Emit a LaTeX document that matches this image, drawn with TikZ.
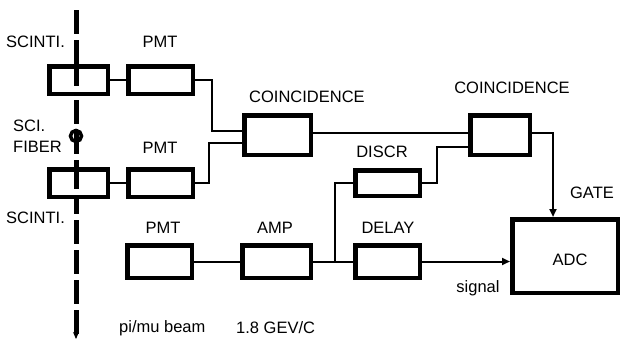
\documentclass[tikz,border=0pt]{standalone}
\usepackage{fontspec}
\setmainfont{Liberation Sans}
\usetikzlibrary{arrows.meta}
\begin{document}
\begin{tikzpicture}[x=1pt,y=-1pt,
  blk/.style={draw=black,line width=4.5pt,inner sep=0pt,fill=white},
  lbl/.style={font=\fontsize{16.5}{19}\selectfont,inner sep=0pt},
  wire/.style={line width=2pt},
  arr/.style={wire,-{Triangle[length=8pt,width=7pt]}}]
\useasboundingbox (0,0) rectangle (621,340);
% beam line
\draw[line width=5pt,dash pattern=on 24pt off 6pt,-{Stealth[length=7pt,width=6pt]}] (76,10) -- (76,339);
% blocks
\node[blk,minimum width=58.5pt,minimum height=27.5pt] (sc1) at (78.5,80) {};
\node[blk,minimum width=58.5pt,minimum height=27.5pt] (sc2) at (78.5,183) {};
\draw[line width=5pt] (76,66) -- (76,86);
\draw[line width=5pt] (76,169) -- (76,189);
\node[blk,minimum width=64.5pt,minimum height=27.5pt] (pmt1) at (160.5,80) {};
\node[blk,minimum width=64.5pt,minimum height=27.5pt] (pmt2) at (160.5,183) {};
\node[blk,minimum width=66.5pt,minimum height=39.5pt] (co1) at (277.5,135) {};
\node[blk,minimum width=59.5pt,minimum height=39.5pt] (co2) at (500,135) {};
\node[blk,minimum width=64.5pt,minimum height=25.5pt] (discr) at (387.5,183) {};
\node[blk,minimum width=64.5pt,minimum height=32.5pt] (pmt3) at (159.5,261.5) {};
\node[blk,minimum width=68.5pt,minimum height=32.5pt] (amp) at (276.5,261.5) {};
\node[blk,minimum width=64.5pt,minimum height=32.5pt] (delay) at (387.5,261.5) {};
\node[blk,minimum width=105.5pt,minimum height=73.5pt] (adc) at (565,256) {};
% fiber
\node[draw=black,line width=3.5pt,circle,minimum size=11pt,inner sep=0pt] (fib) at (76,136) {};
\draw[line width=3.5pt] (fib.north) -- (fib.south);
% wires
\draw[wire] (sc1.east) -- (pmt1.west);
\draw[wire] (sc2.east) -- (pmt2.west);
\draw[wire] (pmt1.east) -- ++(17,0) |- ([yshift=4pt]co1.west);
\draw[wire] (pmt2.east) -- ++(14,0) |- ([yshift=-8pt]co1.west);
\draw[wire] ([yshift=2pt]co1.east) -- ([yshift=2pt]co2.west);
\draw[wire] (discr.east) -- ++(15,0) |- ([yshift=-12pt]co2.west);
\draw[arr] ([yshift=2pt]co2.east) -| ([xshift=-12pt]adc.north);
\draw[wire] (pmt3.east) -- (amp.west);
\draw[wire] (amp.east) -- (delay.west);
\coordinate (j) at (335,261.5);
\draw[wire] (j) |- (discr.west);
\draw[arr] (delay.east) -- (adc.west |- delay.east);
% labels
\node[lbl,anchor=west] (t1) at (6,42) {SCINTI.};
\node[lbl] (t2) at (160,42) {PMT};
\node[lbl,anchor=west] (t3) at (13,126) {SCI.};
\node[lbl,anchor=west] (t4) at (13,147) {FIBER};
\node[lbl] (t5) at (160,148) {PMT};
\node[lbl,anchor=west] (t6) at (6,218) {SCINTI.};
\node[lbl] (t7) at (307,97) {COINCIDENCE};
\node[lbl] (t8) at (512,88) {COINCIDENCE};
\node[lbl] (t9) at (382,152) {DISCR};
\node[lbl] (t10) at (163,228) {PMT};
\node[lbl] (t11) at (275,228) {AMP};
\node[lbl] (t12) at (388,228) {DELAY};
\node[lbl] (t13) at (592,193) {GATE};
\node[lbl] (t14) at (570,260) {ADC};
\node[lbl] (t15) at (478,288) {signal};
\node[lbl,anchor=west] (t16) at (119,328) {pi/mu beam};
\node[lbl,anchor=west] (t17) at (236,328) {1.8 GEV/C};
\end{tikzpicture}
\end{document}
